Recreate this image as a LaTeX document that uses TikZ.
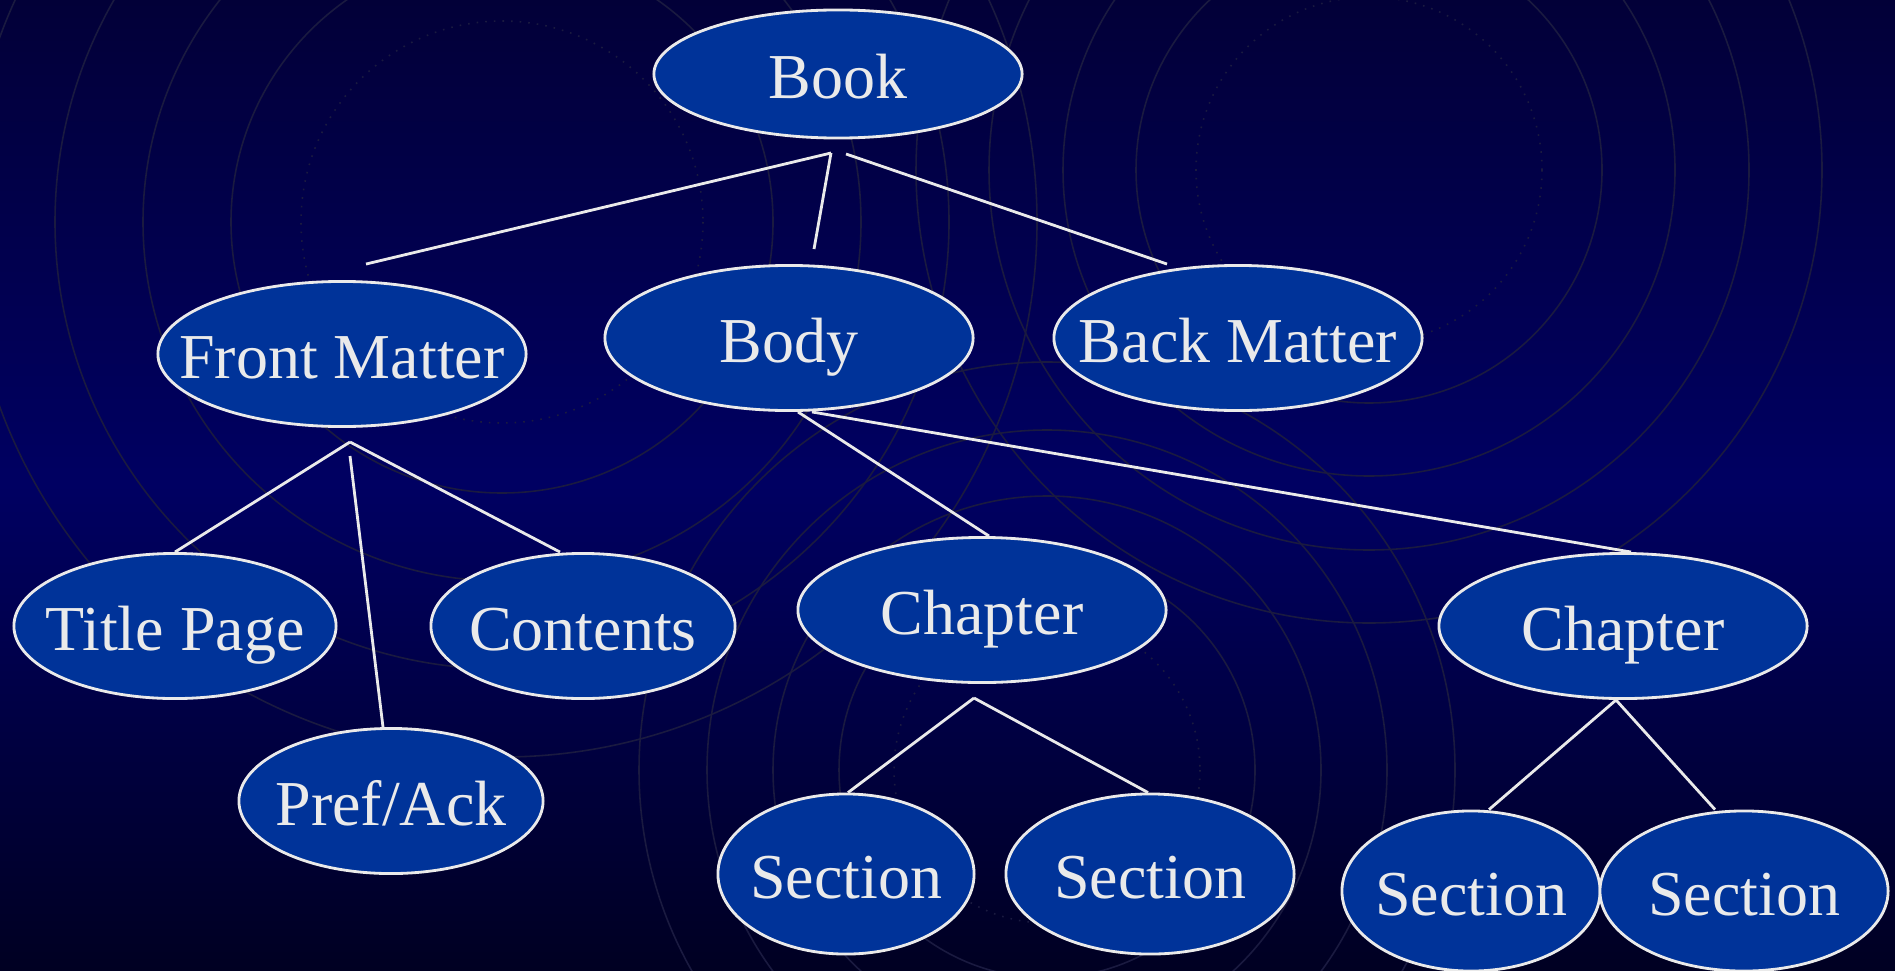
\documentclass[tikz,border=0pt]{standalone}
\usepackage{fontspec}
\setmainfont{Liberation Serif}
\usetikzlibrary{shapes.geometric}
\definecolor{slidetop}{RGB}{2,0,56}
\definecolor{slidemid}{RGB}{0,0,98}
\definecolor{slidebot}{RGB}{0,0,34}
\definecolor{boxblue}{RGB}{0,51,153}
\definecolor{chalk}{RGB}{234,234,234}
\definecolor{ringgrey}{RGB}{26,26,64}
\begin{document}
\begin{tikzpicture}
[x=0.01cm, y=-0.01cm,
 nodes={ellipse, draw=chalk, fill=boxblue, text=chalk, line width=.8pt, inner sep=0pt,
  minimum height=1.45cm, text height=14.2pt, text depth=0pt, font=\fontsize{18.2}{20}\selectfont,
  execute at begin node={\hbox to 0pt\bgroup\hss}, execute at end node={\hss\egroup}},
 wide/.style={minimum width=3.68cm},
 sect/.style={minimum height=1.6cm},
 link/.style={draw=chalk, line width=.8pt},
 faint/.style={draw=ringgrey, line width=.45pt}]
\useasboundingbox (0,0) rectangle (1895,970);
\shade[top color=slidetop, bottom color=slidebot, middle color=slidemid] (0,0) rectangle (1895,970);

\begin{scope}
\clip (0,0) rectangle (1895,970);
\draw[faint, dotted] (1369,170) circle [radius=173];
\foreach \r in {233,306,380,453}
  \draw[faint] (1369,170) circle [radius=\r];
\draw[faint, dotted] (502,222) circle [radius=201];
\foreach \r in {271,359,447,535}
  \draw[faint] (502,222) circle [radius=\r];
\draw[faint, dotted] (1047,770) circle [radius=153];
\foreach \r in {208,274,340,408}
  \draw[faint] (1047,770) circle [radius=\r];
\end{scope}

\node (Book) at (838,74) [wide, minimum height=1.28cm] {Book};
\node (FM) at (342,354) [wide] {Front Matter};
\node (Body) at (789,338) [wide] {Body};
\node (BM) at (1238,338) [wide] {Back Matter};
\node (TP) at (175,626) [minimum width=3.22cm] {Title Page};
\node (Cont) at (583,626) [minimum width=3.04cm] {Contents};
\node (Pref) at (391,801) [minimum width=3.04cm] {Pref/Ack};
\node (ChA) at (982,610) [wide] {Chapter};
\node (ChB) at (1623,626) [wide] {Chapter};
\node (SecA) at (846,874) [sect, minimum width=2.56cm] {Section};
\node (SecB) at (1150,874) [sect, minimum width=2.88cm] {Section};
\node (SecC) at (1471,891) [sect, minimum width=2.58cm] {Section};
\node (SecD) at (1744,891) [sect, minimum width=2.88cm] {Section};

\coordinate (bookfork) at (831,153);
\coordinate (bookfork2) at (846,154);
\coordinate (fmfork) at (350,442);
\coordinate (fmfork2) at (350,456);
\coordinate (chAfork) at (974,698);
\coordinate (chBfork) at (1616,700);

\draw[link] (bookfork) -- ([shift={(24,-16)}]FM.north);
\draw[link] (bookfork) -- ([shift={(25,-15)}]Body.north);
\draw[link] (bookfork2) -- ([shift={(-71,0)}]BM.north);
\draw[link] (fmfork) -- (TP.north);
\draw[link] (fmfork) -- ([shift={(-23,0)}]Cont.north);
\draw[link] (fmfork2) -- ([shift={(-8,0)}]Pref.north);
\draw[link] ([shift={(9,0)}]Body.south) -- ([shift={(7,0)}]ChA.north);
\draw[link] ([shift={(23,0)}]Body.south) -- ([shift={(8,0)}]ChB.north);
\draw[link] (chAfork) -- ([shift={(2,0)}]SecA.north);
\draw[link] (chAfork) -- ([shift={(-2,0)}]SecB.north);
\draw[link] (chBfork) -- ([shift={(18,0)}]SecC.north);
\draw[link] (chBfork) -- ([shift={(-29,0)}]SecD.north);
\end{tikzpicture}
\end{document}
